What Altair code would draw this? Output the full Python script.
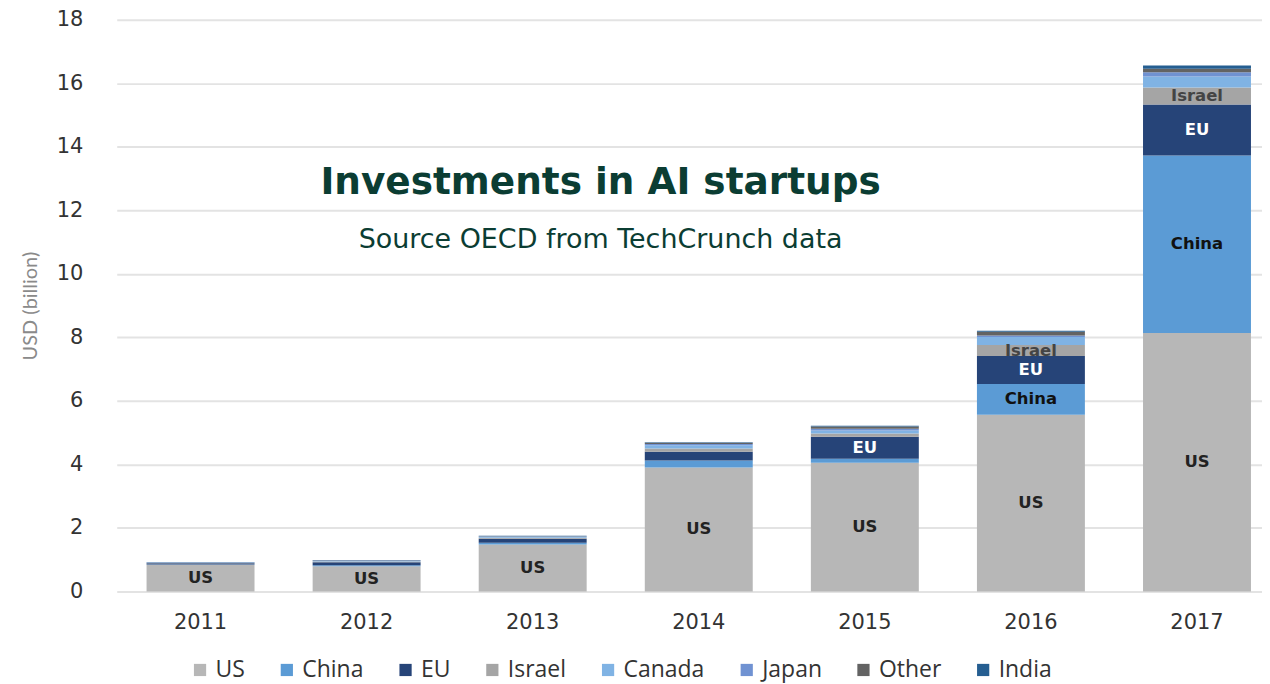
import altair as alt
import pandas as pd

years = ["2011", "2012", "2013", "2014", "2015", "2016", "2017"]
regions = ["US", "China", "EU", "Israel", "Canada", "Japan", "Other", "India"]
colors = ["#b7b7b7", "#5b9bd5", "#264478", "#a5a5a5", "#80b3e4", "#7092d2", "#636363", "#255e91"]

us     = [0.84, 0.79, 1.48, 3.90, 4.05, 5.56, 8.14]
china  = [0.01, 0.03, 0.05, 0.22, 0.13, 0.97, 5.59]
eu     = [0.04, 0.10, 0.13, 0.28, 0.69, 0.88, 1.60]
israel = [0.01, 0.02, 0.03, 0.10, 0.10, 0.35, 0.54]
canada = [0.01, 0.02, 0.03, 0.10, 0.10, 0.25, 0.34]
japan  = [0.01, 0.01, 0.01, 0.04, 0.05, 0.05, 0.14]
other  = [0.00, 0.01, 0.01, 0.04, 0.07, 0.12, 0.11]
india  = [0.01, 0.01, 0.01, 0.02, 0.03, 0.03, 0.10]

labels_shown = {
    ("2011", "US"), ("2012", "US"), ("2013", "US"), ("2014", "US"),
    ("2015", "US"), ("2015", "EU"),
    ("2016", "US"), ("2016", "China"), ("2016", "EU"), ("2016", "Israel"),
    ("2017", "US"), ("2017", "China"), ("2017", "EU"), ("2017", "Israel"),
}
label_colors = {"US": "#222222", "China": "#111111", "EU": "#ffffff", "Israel": "#444444"}

series = [us, china, eu, israel, canada, japan, other, india]
rows = []
for ri, (reg, vals) in enumerate(zip(regions, series)):
    for y, v in zip(years, vals):
        rows.append({
            "year": y, "region": reg, "value": v, "order": ri,
            "label": reg if (y, reg) in labels_shown else "",
            "lcolor": label_colors.get(reg, "#000000"),
        })
df = pd.DataFrame(rows)

W, H = 1148, 573

x = alt.X("year:N", title=None,
          scale=alt.Scale(paddingInner=0.35, paddingOuter=0.123, align=0.73),
          axis=alt.Axis(labelAngle=0, labelFontSize=21, labelColor="#333333",
                        labelFont="DejaVu Sans", ticks=False, domain=False,
                        labelPadding=20))

bars = alt.Chart(df).mark_bar().encode(
    x=x,
    y=alt.Y("value:Q", stack="zero", title="USD (billion)",
            scale=alt.Scale(domain=[0, 18]),
            axis=alt.Axis(values=list(range(0, 19, 2)), labelFontSize=21,
                          labelColor="#333333", labelFont="DejaVu Sans",
                          ticks=False, domain=False, labelPadding=34,
                          gridColor="#e3e3e3", gridWidth=2,
                          titleFont="Lato", titleFontSize=20,
                          titleColor="#8a8a8a", titleFontWeight="normal",
                          titlePadding=16)),
    color=alt.Color("region:N", scale=alt.Scale(domain=regions, range=colors),
                    sort=regions,
                    legend=alt.Legend(title=None, orient="none", direction="horizontal",
                                      legendX=72, legendY=640,
                                      symbolType="square", symbolSize=150,
                                      symbolStrokeWidth=0,
                                      labelFont="Open Sans",
                                      labelFontSize=23, labelColor="#333333",
                                      columnPadding=30, labelLimit=200)),
    order=alt.Order("order:Q", sort="ascending"),
)

texts = alt.Chart(df).transform_stack(
    stack="value", as_=["y0", "y1"], groupby=["year"],
    sort=[alt.SortField("order", order="ascending")]
).transform_filter(
    alt.datum.label != ""
).transform_calculate(
    mid="(datum.y0 + datum.y1) / 2"
).mark_text(font="DejaVu Sans", fontWeight="bold", fontSize=16.5).encode(
    x=alt.X("year:N"),
    y=alt.Y("mid:Q"),
    text="label:N",
    color=alt.Color("lcolor:N", scale=None, legend=None),
)

title_df = pd.DataFrame({"t": ["Investments in AI startups"]})
sub_df = pd.DataFrame({"t": ["Source OECD from TechCrunch data"]})

title = alt.Chart(title_df).mark_text(
    font="DejaVu Sans", fontWeight="bold", fontSize=37.5, color="#0b3d33"
).encode(x=alt.value(485), y=alt.value(164), text="t:N")

subtitle = alt.Chart(sub_df).mark_text(
    font="DejaVu Sans", fontSize=27, color="#0b3d33"
).encode(x=alt.value(485), y=alt.value(221), text="t:N")

chart = alt.layer(bars, texts, title, subtitle).properties(
    width=W, height=H,
    padding={"left": 12, "top": 0, "right": 0, "bottom": 0},
).configure_view(stroke=None).configure_axisX(grid=False)

chart.save("out.html", embed_options={"renderer": "svg", "actions": False})
